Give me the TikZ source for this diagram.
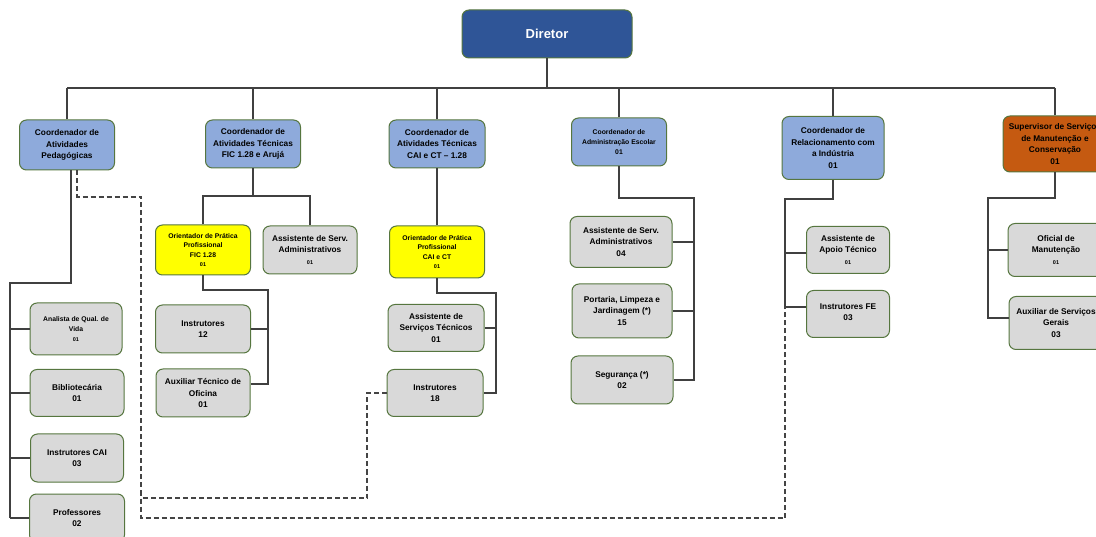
\documentclass[tikz,border=0pt]{standalone}
\usepackage{fontspec}
\setmainfont{Liberation Sans}
\definecolor{dirBlue}{HTML}{2F5597}
\definecolor{coordBlue}{HTML}{8EAADB}
\definecolor{supOrange}{HTML}{C55A11}
\definecolor{oriYellow}{HTML}{FFFF00}
\definecolor{staffGray}{HTML}{D9D9D9}
\definecolor{boxEdge}{HTML}{56763F}
\definecolor{lineGray}{HTML}{404040}
\definecolor{dashGray}{HTML}{444444}
\newcommand{\tinyNum}[1]{{\fontsize{5.5}{7}\selectfont #1}}

\begin{document}
\begin{tikzpicture}[x=1pt,y=-1pt,%%
  lineStyle/.style={-,line width=1.2pt,draw=lineGray},%%
  dashStyle/.style={-,line width=1.1pt,draw=dashGray,dash pattern=on 5pt off 3pt},%%
  boxSize/.style 2 args={minimum width=#1,minimum height=#2},%%
  boxStyle/.style={draw=boxEdge,line width=1pt,rounded corners=7pt,align=center,%%
    inner sep=1pt,text=black,font=\bfseries\fontsize{8.3}{11.5}\selectfont},%%
  smallText/.style={font=\bfseries\fontsize{6.8}{9.6}\selectfont},%%
  dirStyle/.style={boxStyle,fill=dirBlue,text=white,font=\bfseries\fontsize{13}{15}\selectfont},%%
  coordStyle/.style={boxStyle,fill=coordBlue},%%
  supStyle/.style={boxStyle,fill=supOrange},%%
  oriStyle/.style={boxStyle,smallText,fill=oriYellow},%%
  staffStyle/.style={boxStyle,fill=staffGray}%%
]
\useasboundingbox (0,0) rectangle (1096,537);
%%
%% Positions of the boxes.
\coordinate (Director) at (547,34);
\coordinate (Pedag) at (67,145);
\coordinate (TecFic) at (253,144);
\coordinate (TecCai) at (437,144);
\coordinate (AdmEsc) at (619,142);
\coordinate (RelInd) at (833,148);
\coordinate (Manut) at (1055,144);
\coordinate (Bus) at (0,88);
%%
%% Top of the chart.
\node (Dir) at (Director) [dirStyle,boxSize={170}{48}] {Diretor};
\node (CPed) at (Pedag) [coordStyle,boxSize={95}{50}] {Coordenador de\\Atividades\\Pedagógicas};
\node (CFic) at (TecFic) [coordStyle,boxSize={95}{48}] {Coordenador de\\Atividades Técnicas\\FIC 1.28 e Arujá};
\node (CCai) at (TecCai) [coordStyle,boxSize={96}{48}] {Coordenador de\\Atividades Técnicas\\CAI e CT -- 1.28};
\node (CAdm) at (AdmEsc) [coordStyle,smallText,boxSize={95}{48}] {Coordenador de\\Administração Escolar\\01};
\node (CRel) at (RelInd) [coordStyle,boxSize={102}{63}] {Coordenador de\\Relacionamento com\\a Indústria\\01};
\node (Sup) at (Manut) [supStyle,boxSize={104}{56}] {Supervisor de Serviços\\de Manutenção e\\Conservação\\01};
%%
%% Pedagogical staff.
\node (Anal) at (76,329) [staffStyle,smallText,boxSize={92}{52}] {Analista de Qual. de\\Vida\\\tinyNum{01}};
\node (Bib) at (77,393) [staffStyle,boxSize={94}{47}] {Bibliotecária\\01};
\node (ICai) at (77,458) [staffStyle,boxSize={93}{48}] {Instrutores CAI\\03};
\node (Prof) at (77,518) [staffStyle,boxSize={95}{48}] {Professores\\02};
%%
%% FIC staff.
\node (OFic) at (203,250) [oriStyle,boxSize={95}{50}] {Orientador de Prática\\Profissional\\FIC 1.28\\\tinyNum{01}};
\node (AFic) at (310,250) [staffStyle,boxSize={94}{48}] {Assistente de Serv.\\Administrativos\\\tinyNum{01}};
\node (Ins12) at (203,329) [staffStyle,boxSize={95}{48}] {Instrutores\\12};
\node (AuxT) at (203,393) [staffStyle,boxSize={94}{48}] {Auxiliar Técnico de\\Oficina\\01};
%%
%% CAI staff.
\node (OCai) at (437,252) [oriStyle,boxSize={95}{52}] {Orientador de Prática\\Profissional\\CAI e CT\\\tinyNum{01}};
\node (ASTec) at (436,328) [staffStyle,boxSize={96}{47}] {Assistente de\\Serviços Técnicos\\01};
\node (Ins18) at (435,393) [staffStyle,boxSize={96}{47}] {Instrutores\\18};
%%
%% School administration staff.
\node (ASAdm) at (621,242) [staffStyle,boxSize={102}{51}] {Assistente de Serv.\\Administrativos\\04};
\node (Port) at (622,311) [staffStyle,boxSize={100}{54}] {Portaria, Limpeza e\\Jardinagem (*)\\15};
\node (Seg) at (622,380) [staffStyle,boxSize={102}{48}] {Segurança (*)\\02};
%%
%% Industry relations staff.
\node (AApoio) at (848,250) [staffStyle,boxSize={83}{47}] {Assistente de\\Apoio Técnico\\\tinyNum{01}};
\node (InsFe) at (848,314) [staffStyle,boxSize={83}{47}] {Instrutores FE\\03\rule[-4pt]{0pt}{0pt}};
%%
%% Maintenance staff.
\node (Ofic) at (1056,250) [staffStyle,boxSize={96}{53}] {Oficial de\\Manutenção\\\tinyNum{01}};
\node (AuxG) at (1056,323) [staffStyle,boxSize={94}{53}] {Auxiliar de Serviços\\Gerais\\03};
%%
%% Branch points that sit off the box centres.
\coordinate (AuxTb) at ([yshift=9pt]AuxT.east);
\coordinate (InsFeb) at ([yshift=7pt]InsFe.west);
\coordinate (AApoiob) at ([yshift=-3pt]AApoio.west);
\coordinate (AuxGb) at ([yshift=5pt]AuxG.west);
\coordinate (CPedb) at ([xshift=4pt]CPed.south);
\coordinate (CPedd) at ([xshift=10pt]CPed.south);
%%
%% Lines from the director.
\draw[lineStyle] (Dir.south) -- (Dir.south |- Bus);
\draw[lineStyle] (CPed.north |- Bus) -- (Sup.north |- Bus);
\foreach \n in {CPed,CFic,CCai,CAdm,CRel,Sup}
  \draw[lineStyle] (\n.north) -- (\n.north |- Bus);
%%
%% Lines below the coordinators.
\coordinate (PedK) at (10,283);
\draw[lineStyle] (CPedb) |- (PedK) -- (PedK |- Prof.west);
\foreach \n in {Anal,Bib,ICai,Prof}
  \draw[lineStyle] (\n.west) -- (\n.west -| PedK);
%%
\coordinate (FicJ) at (253,196);
\draw[lineStyle] (CFic.south) -- (FicJ);
\draw[lineStyle] (OFic.north) |- (FicJ) -| (AFic.north);
\coordinate (FicK) at (268,290);
\draw[lineStyle] (OFic.south) |- (FicK) |- (AuxTb);
\draw[lineStyle] (Ins12.east) -- (Ins12.east -| FicK);
%%
\draw[lineStyle] (CCai.south) -- (OCai.north);
\coordinate (CaiK) at (496,293);
\draw[lineStyle] (OCai.south) |- (CaiK) |- (Ins18.east);
\draw[lineStyle] (ASTec.east) -- (ASTec.east -| CaiK);
%%
\coordinate (AdmK) at (694,198);
\draw[lineStyle] (CAdm.south) |- (AdmK) |- (Seg.east);
\draw[lineStyle] (ASAdm.east) -- (ASAdm.east -| AdmK);
\draw[lineStyle] (Port.east) -- (Port.east -| AdmK);
%%
\coordinate (RelK) at (785,199);
\draw[lineStyle] (CRel.south) |- (RelK) |- (InsFeb);
\draw[lineStyle] (AApoiob) -- (AApoiob -| RelK);
%%
\coordinate (SupK) at (988,198);
\draw[lineStyle] (Sup.south) |- (SupK) |- (AuxGb);
\draw[lineStyle] (Ofic.west) -- (Ofic.west -| SupK);
%%
%% Dashed links.
\coordinate (DashA) at (141,197);
\coordinate (DashB) at (141,518);
\coordinate (DashC) at (785,518);
\coordinate (DashD) at (367,498);
\draw[dashStyle] (CPedd) |- (DashA) -- (DashB) -- (DashC) -- (DashC |- InsFeb);
\draw[dashStyle] (Ins18.west) -| (DashD) -- (DashD -| DashA);
\end{tikzpicture}
\end{document}
